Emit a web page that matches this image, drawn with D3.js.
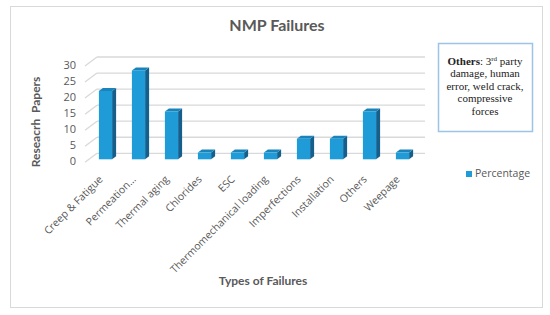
<!DOCTYPE html>
<html>
<head>
<meta charset="utf-8">
<script src="https://d3js.org/d3.v7.min.js"></script>
<style>
    body { margin: 0; background: #fff; }
</style>
</head>
<body>
<svg id="drawing_region"></svg>
<script>
const categories = ["Creep & Fatigue", "Permeation…", "Thermal aging", "Chlorides", "ESC",
    "Thermomechanical loading", "Imperfections", "Installation", "Others", "Weepage"];
const percentage = [21.3, 27.7, 14.9, 2.1, 2.1, 2.1, 6.4, 6.4, 14.9, 2.1];
const yTicks = [0, 5, 10, 15, 20, 25, 30];
const noteLines = ["damage, human", "error, weld crack,", "compressive", "forces"];

var config = {
    parent: '#drawing_region',
    width: 550,
    height: 315,
    x0: 89, x1: 419,
    y0: 159.3, y1: 63,
    depth: { dx: 4, dy: -3 }
};

class Bar3DChart {

    constructor(config, data) {
        this.config = config;
        this.data = data;
        this.init();
    }

    init() {
        let self = this;

        self.svg = d3.select(self.config.parent)
            .attr('width', self.config.width)
            .attr('height', self.config.height);

        self.xscale = d3.scaleBand()
            .domain(categories)
            .range([self.config.x0, self.config.x1])
            .paddingInner(0.6)
            .paddingOuter(0.3);

        self.yscale = d3.scaleLinear()
            .domain([0, 30])
            .range([self.config.y0, self.config.y1]);
    }

    render() {
        let self = this;
        const x = self.xscale, y = self.yscale;
        const dx = self.config.depth.dx, dy = self.config.depth.dy;
        const bw = x.bandwidth();

        // outer frame
        self.svg.append('rect')
            .attr('x', 10.5).attr('y', 6.5)
            .attr('width', 532).attr('height', 301)
            .attr('fill', 'white')
            .attr('stroke', '#d9d9d9');

        self.svg.append('text')
            .attr('x', 277).attr('y', 27)
            .attr('text-anchor', 'middle')
            .attr('dominant-baseline', 'middle')
            .style('font-family', 'Lato, sans-serif')
            .style('font-weight', 'bold')
            .style('font-size', '16px')
            .attr('fill', '#595959')
            .text('NMP Failures');

        // back wall grid lines + floor diagonals
        const grid = self.svg.append('g');
        grid.selectAll('line.back')
            .data(yTicks)
            .join('line')
            .attr('x1', 97).attr('x2', 425)
            .attr('y1', d => y(d) - 6).attr('y2', d => y(d) - 6)
            .attr('stroke', '#d9d9d9').attr('stroke-width', 1.3);
        grid.selectAll('line.side')
            .data(yTicks)
            .join('line')
            .attr('x1', 85).attr('x2', 97)
            .attr('y1', d => y(d) + 3).attr('y2', d => y(d) - 6)
            .attr('stroke', '#d9d9d9').attr('stroke-width', 1.3);

        self.svg.append('g')
            .selectAll('text')
            .data(yTicks)
            .join('text')
            .attr('x', 76)
            .attr('y', d => y(d) + 3)
            .attr('text-anchor', 'end')
            .attr('dominant-baseline', 'middle')
            .style('font-family', '"Open Sans", sans-serif')
            .style('font-size', '11px')
            .attr('fill', '#595959')
            .text(d => d);

        // bars
        const bars = self.svg.append('g')
            .selectAll('g')
            .data(categories.map((c, i) => ({ c: c, v: percentage[i] })))
            .join('g');

        bars.append('polygon')
            .attr('points', d => {
                const xl = x(d.c), xr = x(d.c) + bw, yt = y(d.v), yb = y(0);
                return [[xr, yt], [xr + dx, yt + dy], [xr + dx, yb + dy], [xr, yb]].join(' ');
            })
            .attr('fill', '#145f8c');
        bars.append('polygon')
            .attr('points', d => {
                const xl = x(d.c), xr = x(d.c) + bw, yt = y(d.v);
                return [[xl, yt], [xl + dx, yt + dy], [xr + dx, yt + dy], [xr, yt]].join(' ');
            })
            .attr('fill', '#1a83ba');
        bars.append('rect')
            .attr('x', d => x(d.c))
            .attr('y', d => y(d.v))
            .attr('width', bw)
            .attr('height', d => y(0) - y(d.v))
            .attr('fill', '#1f9bd8');

        // category labels
        self.svg.append('g')
            .selectAll('text')
            .data(categories)
            .join('text')
            .attr('transform', d => `translate(${x(d) + bw / 2 - 4}, 178) rotate(-45)`)
            .attr('text-anchor', 'end')
            .attr('dominant-baseline', 'middle')
            .style('font-family', '"Open Sans", sans-serif')
            .style('font-size', '10.5px')
            .attr('fill', '#595959')
            .text(d => d);

        // axis titles
        self.svg.append('text')
            .attr('transform', 'translate(37, 122) rotate(-90)')
            .attr('text-anchor', 'middle')
            .attr('dominant-baseline', 'middle')
            .style('font-family', 'Lato, sans-serif')
            .style('font-weight', 'bold')
            .style('font-size', '12px')
            .style('white-space', 'pre')
            .attr('fill', '#595959')
            .text('Reseacrh  Papers');

        self.svg.append('text')
            .attr('x', 263).attr('y', 282)
            .attr('text-anchor', 'middle')
            .attr('dominant-baseline', 'middle')
            .style('font-family', 'Lato, sans-serif')
            .style('font-weight', 'bold')
            .style('font-size', '12px')
            .attr('fill', '#595959')
            .text('Types of Failures');

        // note box
        self.svg.append('rect')
            .attr('x', 438.5).attr('y', 43.5)
            .attr('width', 94).attr('height', 88)
            .attr('fill', 'white')
            .attr('stroke', '#9dc3e6')
            .attr('stroke-width', 1.5);

        const first = self.svg.append('text')
            .attr('x', 485).attr('y', 62)
            .attr('text-anchor', 'middle')
            .attr('dominant-baseline', 'middle')
            .style('font-family', '"Liberation Serif", serif')
            .style('font-size', '11px')
            .attr('fill', '#222');
        first.append('tspan').style('font-weight', 'bold').text('Others');
        first.append('tspan').text(': 3');
        first.append('tspan').attr('dy', -3).style('font-size', '7px').text('rd');
        first.append('tspan').attr('dy', 3).text(' party');

        self.svg.append('g')
            .selectAll('text')
            .data(noteLines)
            .join('text')
            .attr('x', 485)
            .attr('y', (d, i) => 74.5 + i * 12.5)
            .attr('text-anchor', 'middle')
            .attr('dominant-baseline', 'middle')
            .style('font-family', '"Liberation Serif", serif')
            .style('font-size', '11px')
            .attr('fill', '#222')
            .text(d => d);

        // legend
        self.svg.append('rect')
            .attr('x', 466).attr('y', 171)
            .attr('width', 6).attr('height', 6)
            .attr('fill', '#1f9bd8');
        self.svg.append('text')
            .attr('x', 475).attr('y', 174.5)
            .attr('dominant-baseline', 'middle')
            .style('font-family', '"Open Sans", sans-serif')
            .style('font-size', '10.5px')
            .attr('fill', '#595959')
            .text('Percentage');
    }
}

const chart = new Bar3DChart(config, percentage);
chart.render();
</script>
</body>
</html>
